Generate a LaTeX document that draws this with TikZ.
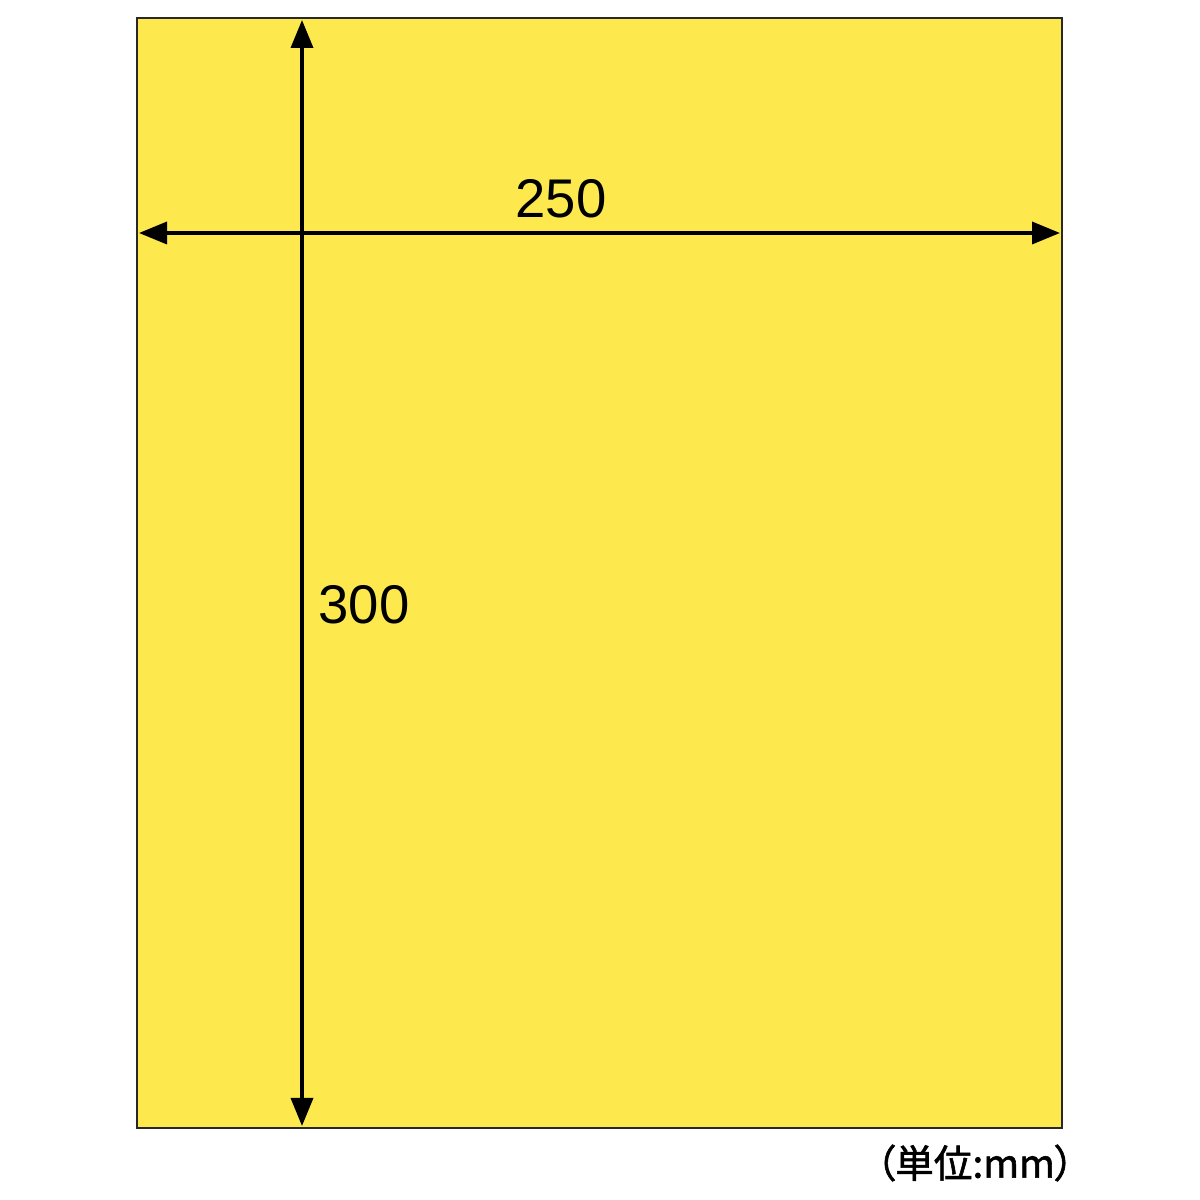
\documentclass[tikz,border=0pt]{standalone}
\usepackage{fontspec}
\setmainfont{Liberation Sans}
\newfontfamily\cjk{Noto Sans CJK JP}[CharacterWidth=AlternateProportional,FakeBold=1.5]
\usetikzlibrary{arrows.meta}
\definecolor{sheet}{RGB}{253,232,78}
\definecolor{edge}{RGB}{40,40,40}
\tikzset{
  dimline/.style={line width=1pt, black, {Triangle[length=2.8mm,width=2.2mm]}-{Triangle[length=2.8mm,width=2.2mm]}},
  dimlabel/.style={font=\fontsize{15.5pt}{18pt}\selectfont, inner sep=0pt, text=black},
  unitlabel/.style={font=\cjk\fontsize{11pt}{13pt}\selectfont, inner sep=0pt, text=black}
}
\begin{document}
\begin{tikzpicture}
\useasboundingbox (0,0) rectangle (12,12);
\fill[white] (0,0) rectangle (12,12);
\draw[edge, line width=0.6pt, fill=sheet] (1.37,0.72) rectangle (10.62,11.82);
\coordinate (vtop) at (3.02,11.80);
\coordinate (vbot) at (3.02,0.74);
\coordinate (hleft) at (1.39,9.67);
\coordinate (hright) at (10.60,9.67);
\draw[dimline] (vtop) -- (vbot);
\draw[dimline] (hleft) -- (hright);
\node[dimlabel] (w) at (5.61,10.01) {250};
\node[dimlabel] (h) at (3.64,5.95) {300};
\node[unitlabel] (u) at (9.75,0.37) {（単位:mm）};
\end{tikzpicture}
\end{document}
